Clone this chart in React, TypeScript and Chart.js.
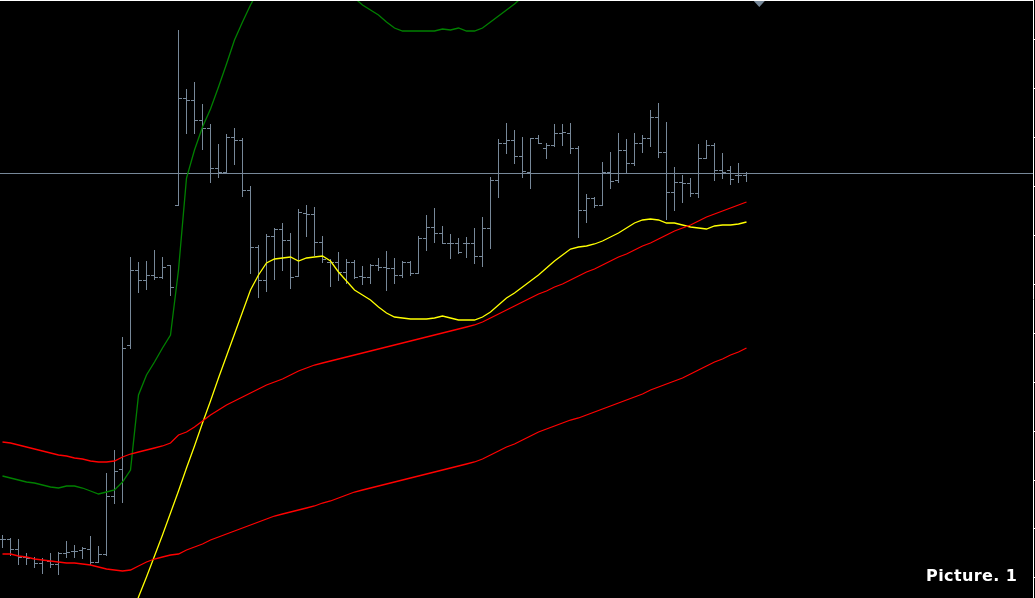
import React, { useEffect, useRef } from "react";
import { Chart, registerables } from "chart.js";

Chart.register(...registerables);

// Prices in points (1 point = 0.0001), one entry per bar, oldest first
const OPEN = [
  12461, 12461, 12451, 12443, 12442, 12437, 12439, 12436, 12447, 12449,
  12450, 12451, 12438, 12446, 12504, 12531, 12655, 12730, 12720, 12725,
  12723, 12735, 12795, 12902, 12900, 12880, 12872, 12832, 12828, 12863,
  12860, 12810, 12753, 12720, 12764, 12771, 12760, 12724, 12787, 12786,
  12758, 12738, 12738, 12728, 12738, 12724, 12723, 12735, 12733, 12732,
  12725, 12738, 12727, 12762, 12773, 12767, 12757, 12757, 12757, 12757,
  12744, 12772, 12820, 12857, 12860, 12844, 12828, 12862, 12852, 12855,
  12867, 12867, 12852, 12790, 12802, 12795, 12828, 12820, 12850, 12837,
  12857, 12862, 12883, 12848, 12808, 12818, 12817, 12807, 12842, 12855,
  12830, 12830, 12825, 12825,
];
const HIGH = [
  12465, 12462, 12461, 12447, 12443, 12442, 12447, 12448, 12459, 12455,
  12453, 12464, 12454, 12527, 12550, 12663, 12743, 12738, 12739, 12750,
  12743, 12735, 12970, 12911, 12918, 12896, 12876, 12856, 12866, 12872,
  12862, 12814, 12755, 12766, 12772, 12777, 12767, 12791, 12795, 12793,
  12764, 12741, 12748, 12741, 12740, 12734, 12736, 12742, 12749, 12742,
  12739, 12739, 12764, 12785, 12792, 12774, 12766, 12762, 12763, 12772,
  12783, 12823, 12861, 12877, 12870, 12863, 12862, 12865, 12857, 12876,
  12876, 12877, 12854, 12806, 12803, 12838, 12848, 12867, 12861, 12867,
  12865, 12890, 12897, 12878, 12833, 12825, 12822, 12856, 12860, 12857,
  12847, 12834, 12837, 12828,
];
const LOW = [
  12453, 12445, 12436, 12436, 12433, 12427, 12433, 12426, 12443, 12443,
  12442, 12436, 12438, 12445, 12497, 12498, 12652, 12708, 12711, 12721,
  12722, 12705, 12795, 12867, 12867, 12851, 12818, 12823, 12828, 12836,
  12804, 12727, 12703, 12709, 12721, 12730, 12712, 12724, 12764, 12745,
  12738, 12714, 12720, 12717, 12722, 12716, 12717, 12730, 12710, 12717,
  12723, 12725, 12727, 12750, 12758, 12757, 12742, 12747, 12743, 12737,
  12734, 12752, 12803, 12847, 12837, 12823, 12812, 12857, 12842, 12854,
  12855, 12847, 12763, 12778, 12793, 12795, 12812, 12818, 12827, 12835,
  12848, 12854, 12843, 12781, 12790, 12798, 12804, 12803, 12842, 12820,
  12822, 12816, 12818, 12819,
];
const CLOSE = [
  12461, 12451, 12443, 12442, 12437, 12440, 12436, 12447, 12448, 12449,
  12452, 12438, 12446, 12504, 12529, 12652, 12730, 12720, 12725, 12723,
  12733, 12713, 12902, 12900, 12880, 12872, 12832, 12828, 12863, 12860,
  12810, 12753, 12720, 12764, 12771, 12760, 12723, 12788, 12786, 12758,
  12741, 12738, 12728, 12738, 12723, 12723, 12735, 12733, 12732, 12725,
  12738, 12727, 12762, 12773, 12767, 12757, 12757, 12748, 12757, 12744,
  12772, 12820, 12857, 12860, 12844, 12829, 12862, 12857, 12855, 12867,
  12868, 12852, 12790, 12802, 12795, 12828, 12819, 12850, 12837, 12857,
  12862, 12883, 12848, 12808, 12818, 12817, 12807, 12842, 12855, 12830,
  12828, 12821, 12825, 12827,
];

// Indicator lines (points), one entry per bar; null where the line is absent
const GREEN_LINE = [
  12524, 12522, 12520, 12518, 12517, 12515, 12513, 12512, 12514, 12514,
  12512, 12509, 12506, 12508, 12510, 12518, 12530, 12605, 12625, 12638,
  12652, 12665, 12730, 12822, 12850, 12873, 12891, 12913, 12936, 12960,
  12978, 12995, 13010, 13025, 13038, 13048, 13055, 13058, 13058, 13055,
  13048, 13038, 13025, 13012, 13002, 12995, 12990, 12985, 12978, 12972,
  12969, 12969, 12969, 12969, 12969, 12971, 12970, 12972, 12969, 12969,
  12972, 12978, 12984, 12990, 12996, 13003, 13010, null, null, null,
  null, null, null, null, null, null, null, null, null, null,
  null, null, null, null, null, null, null, null, null, null,
  null, null, null, null,
];
const RED_UPPER = [
  12558, 12557, 12555, 12553, 12551, 12549, 12547, 12545, 12544, 12542,
  12541, 12539, 12538, 12538, 12539, 12543, 12546, 12548, 12550, 12552,
  12554, 12557, 12565, 12568, 12573, 12579, 12585, 12590, 12595, 12599,
  12603, 12607, 12611, 12615, 12618, 12621, 12625, 12629, 12632, 12635,
  12637, 12639, 12641, 12643, 12645, 12647, 12649, 12651, 12653, 12655,
  12657, 12659, 12661, 12663, 12665, 12667, 12669, 12671, 12673, 12675,
  12678, 12682, 12686, 12690, 12694, 12698, 12702, 12706, 12709, 12713,
  12716, 12720, 12724, 12728, 12731, 12735, 12739, 12743, 12746, 12750,
  12754, 12757, 12761, 12765, 12769, 12772, 12775, 12779, 12783, 12786,
  12789, 12792, 12795, 12798,
];
const RED_LOWER = [
  12446, 12446, 12444, 12443, 12441, 12440, 12439, 12438, 12437, 12437,
  12436, 12435, 12433, 12431, 12430, 12429, 12430, 12434, 12438, 12441,
  12443, 12445, 12446, 12450, 12453, 12456, 12460, 12463, 12466, 12469,
  12472, 12475, 12478, 12481, 12484, 12486, 12488, 12490, 12492, 12494,
  12497, 12499, 12502, 12505, 12508, 12510, 12512, 12514, 12516, 12518,
  12520, 12522, 12524, 12526, 12528, 12530, 12532, 12534, 12536, 12538,
  12541, 12545, 12549, 12553, 12556, 12560, 12564, 12568, 12571, 12574,
  12577, 12580, 12582, 12585, 12588, 12591, 12594, 12597, 12600, 12603,
  12606, 12610, 12613, 12616, 12619, 12622, 12626, 12630, 12634, 12638,
  12641, 12645, 12648, 12652,
];
const YELLOW_LINE = [
  null, null, null, null, null, null, null, null, null, null,
  null, null, null, null, null, null, 12380, 12403, 12423, 12444,
  12465, 12487, 12509, 12532, 12554, 12577, 12599, 12622, 12644, 12666,
  12688, 12710, 12725, 12737, 12741, 12742, 12743, 12739, 12742, 12743,
  12744, 12739, 12728, 12719, 12710, 12705, 12700, 12693, 12687, 12683,
  12682, 12681, 12681, 12681, 12682, 12684, 12682, 12680, 12680, 12680,
  12683, 12688, 12695, 12702, 12707, 12713, 12719, 12725, 12732, 12739,
  12745, 12751, 12753, 12754, 12756, 12759, 12763, 12767, 12772, 12777,
  12780, 12781, 12780, 12777, 12777, 12775, 12773, 12772, 12771, 12774,
  12775, 12775, 12776, 12778,
];

// Visible window and axis
const Y_MIN = 12402;
const Y_MAX = 13000;
const TICK_TOP = 12960;
const TICK_STEP = 48.9;
const X_MIN = -0.3125;
const X_MAX = 128.8125;
const SHIFT_MARKER_BAR = 94.6;

const BAR_COLOR = "#778899";
const CAPTION = "Picture. 1";

const toPoints = (arr: (number | null)[]) => arr.map((v, i) => ({ x: i, y: v }));

const ohlcPlugin = {
  id: "ohlcBars",
  beforeDatasetsDraw(chart: any) {
    const { ctx, chartArea, scales } = chart;
    const xs = scales.x;
    const ys = scales.y;
    ctx.save();
    ctx.beginPath();
    ctx.rect(chartArea.left, chartArea.top, chartArea.right - chartArea.left, chartArea.bottom - chartArea.top);
    ctx.clip();
    ctx.fillStyle = BAR_COLOR;
    // current price line (last close)
    const py = Math.round(ys.getPixelForValue(CLOSE[CLOSE.length - 1]));
    ctx.fillRect(chartArea.left, py, chartArea.right - chartArea.left, 1);
    for (let i = 0; i < OPEN.length; i++) {
      const x = Math.floor(xs.getPixelForValue(i));
      const yh = Math.round(ys.getPixelForValue(HIGH[i]));
      const yl = Math.round(ys.getPixelForValue(LOW[i]));
      const yo = Math.round(ys.getPixelForValue(OPEN[i]));
      const yc = Math.round(ys.getPixelForValue(CLOSE[i]));
      ctx.fillRect(x, yh, 1, yl - yh + 1);
      ctx.fillRect(x - 3, yo, 3, 1);
      ctx.fillRect(x + 1, yc, 3, 1);
    }
    ctx.restore();
  },
  afterDraw(chart: any) {
    const { ctx, chartArea, scales } = chart;
    ctx.save();
    ctx.fillStyle = "#ffffff";
    ctx.fillRect(0, chartArea.top, chartArea.right + 1, 1);
    const mx = scales.x.getPixelForValue(SHIFT_MARKER_BAR);
    ctx.fillStyle = BAR_COLOR;
    ctx.beginPath();
    ctx.moveTo(mx - 5.5, chartArea.top + 1);
    ctx.lineTo(mx + 5.5, chartArea.top + 1);
    ctx.lineTo(mx, chartArea.top + 7);
    ctx.closePath();
    ctx.fill();
    ctx.restore();
  },
};

export default function App() {
  const canvasRef = useRef<HTMLCanvasElement | null>(null);

  useEffect(() => {
    const canvas = canvasRef.current;
    if (!canvas) return;
    const lineDs = (data: (number | null)[], color: string) => ({
      data: toPoints(data),
      borderColor: color,
      borderWidth: 1.3,
      pointRadius: 0,
      pointHoverRadius: 0,
      tension: 0,
      spanGaps: false,
      fill: false,
    });
    const chart = new Chart(canvas, {
      type: "line",
      data: {
        datasets: [
          lineDs(RED_LOWER, "#ff0000"),
          lineDs(RED_UPPER, "#ff0000"),
          lineDs(GREEN_LINE, "#008000"),
          lineDs(YELLOW_LINE, "#ffff00"),
        ] as any,
      },
      options: {
        animation: false,
        responsive: false,
        devicePixelRatio: 1,
        events: [],
        layout: { padding: 0 },
        plugins: { legend: { display: false }, tooltip: { enabled: false } },
        scales: {
          x: { type: "linear", min: X_MIN, max: X_MAX, display: false },
          y: {
            type: "linear",
            position: "right",
            min: Y_MIN,
            max: Y_MAX,
            grid: { drawOnChartArea: false, drawTicks: true, tickLength: 2, color: "#ffffff", lineWidth: 1 },
            border: { display: true, color: "#ffffff", width: 1 },
            ticks: { display: false },
            afterBuildTicks: (scale: any) => {
              const t: { value: number }[] = [];
              for (let v = TICK_TOP; v > Y_MIN; v -= TICK_STEP) t.push({ value: v });
              scale.ticks = t;
            },
          },
        },
      } as any,
      plugins: [ohlcPlugin],
    });
    return () => chart.destroy();
  }, []);

  return (
    <div style={{ position: "fixed", left: 0, top: 0, width: 1035, height: 598, background: "#000", overflow: "hidden" }}>
      <canvas ref={canvasRef} width={1035} height={598} style={{ display: "block", width: 1035, height: 598 }} />
      <div
        style={{
          position: "absolute",
          left: 926,
          top: 568,
          font: "bold 16px 'DejaVu Sans', Verdana, sans-serif",
          lineHeight: "16px",
          letterSpacing: "0.4px",
          color: "#ffffff",
          whiteSpace: "nowrap",
        }}
      >
        {CAPTION}
      </div>
    </div>
  );
}
